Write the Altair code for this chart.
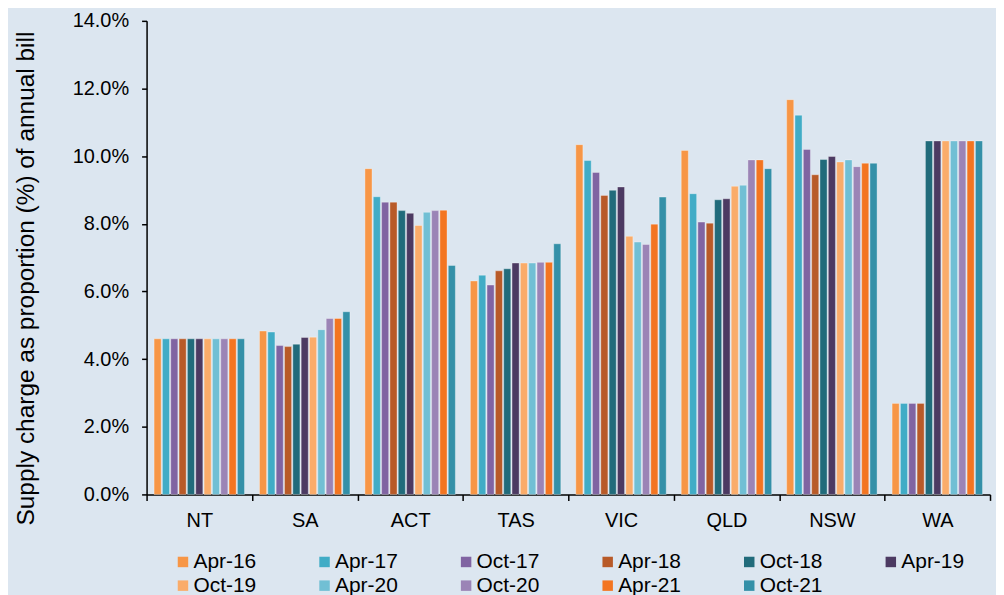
import altair as alt
import pandas as pd

regions = ["NT", "SA", "ACT", "TAS", "VIC", "QLD", "NSW", "WA"]
periods = ["Apr-16", "Apr-17", "Oct-17", "Apr-18", "Oct-18", "Apr-19",
           "Oct-19", "Apr-20", "Oct-20", "Apr-21", "Oct-21"]
colors = ["#F79646", "#41ACC6", "#8064A2", "#B85A28", "#216B7B", "#4C3A62",
          "#FAAC6A", "#71BFD4", "#9B84B6", "#F37521", "#3490A8"]

# supply charge share (%) per region, in the order of `periods`
nt = [4.6, 4.6, 4.6, 4.6, 4.6, 4.6, 4.6, 4.6, 4.6, 4.6, 4.6]
sa = [4.83, 4.80, 4.40, 4.37, 4.44, 4.64, 4.65, 4.87, 5.20, 5.20, 5.40]
act = [9.63, 8.80, 8.64, 8.64, 8.39, 8.31, 7.95, 8.34, 8.39, 8.40, 6.77]
tas = [6.31, 6.48, 6.19, 6.61, 6.67, 6.84, 6.84, 6.84, 6.86, 6.86, 7.41]
vic = [10.34, 9.87, 9.52, 8.84, 8.99, 9.09, 7.63, 7.46, 7.39, 7.99, 8.79]
qld = [10.17, 8.89, 8.05, 8.02, 8.71, 8.74, 9.11, 9.14, 9.89, 9.89, 9.63]
nsw = [11.67, 11.21, 10.20, 9.45, 9.90, 9.99, 9.83, 9.89, 9.69, 9.79, 9.79]
wa = [2.69, 2.69, 2.69, 2.69, 10.45, 10.45, 10.45, 10.45, 10.45, 10.45, 10.45]

series = [nt, sa, act, tas, vic, qld, nsw, wa]
rows = []
for r, vals in zip(regions, series):
    for p, v in zip(periods, vals):
        rows.append({"region": r, "period": p, "value": v / 100})
df = pd.DataFrame(rows)

FONT = "Liberation Sans"

chart = alt.Chart(df).mark_bar(
    stroke="white", strokeWidth=0.6, strokeOpacity=0.55
).encode(
    x=alt.X("region:N", sort=regions, title=None,
            scale=alt.Scale(paddingInner=0, paddingOuter=0),
            axis=alt.Axis(labelAngle=0, tickBand="extent", labelFontSize=20,
                          labelPadding=10, tickSize=6, domainColor="black",
                          tickColor="black", domainWidth=1.5, tickWidth=1.5,
                          labelColor="black", labelFont=FONT)),
    xOffset=alt.XOffset("period:N", sort=periods,
                        scale=alt.Scale(paddingInner=0.15, paddingOuter=0.9)),
    y=alt.Y("value:Q", title="Supply charge as proportion (%) of annual bill",
            scale=alt.Scale(domain=[0, 0.14]),
            axis=alt.Axis(format=".1%", values=[0, 0.02, 0.04, 0.06, 0.08, 0.10, 0.12, 0.14],
                          grid=False, labelFontSize=20, labelPadding=13, tickSize=5,
                          domainColor="black", tickColor="black", domainWidth=1.5,
                          tickWidth=1.5, labelColor="black", labelFont=FONT,
                          titleFont=FONT, titleFontSize=24.5, titleFontWeight="normal",
                          titleColor="black", titlePadding=34, titleY=258)),
    color=alt.Color("period:N", sort=periods,
                    scale=alt.Scale(domain=periods, range=colors),
                    legend=alt.Legend(title=None, orient="none", legendX=26, legendY=532,
                                      direction="horizontal", columns=6,
                                      symbolType="square", symbolSize=110,
                                      symbolStrokeWidth=0, labelFontSize=21,
                                      labelFont=FONT, labelColor="black",
                                      gridAlign="all", columnPadding=57,
                                      rowPadding=2, labelOffset=0)),
).properties(
    width=846, height=475,
    background="#DCE6F0",
    padding={"left": 5, "top": 2, "right": 5, "bottom": 0},
).configure_view(stroke=None)

chart.save("out.html", embed_options={"renderer": "svg", "actions": False})
